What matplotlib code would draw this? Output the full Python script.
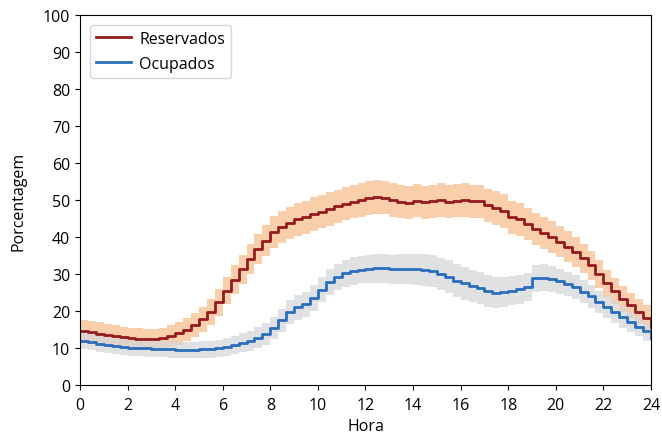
import matplotlib.pyplot as plt
import numpy as np

plt.rcParams['font.family'] = ['Open Sans', 'DejaVu Sans']

# Data (20-minute resolution, 0h to 24h)
hora = np.arange(73) / 3.0
reservados = np.array([
    14.5, 14.2, 13.9, 13.5, 13.2, 12.9, 12.6, 12.4, 12.3, 12.3,
    12.6, 13.2, 14.0, 15.0, 16.2, 17.8, 19.8, 22.3, 25.5, 28.5,
    31.3, 34.0, 36.8, 39.0, 41.3, 42.7, 43.8, 44.8, 45.3, 46.2,
    46.8, 47.6, 48.3, 49.0, 49.5, 50.0, 50.5, 50.8, 50.6, 50.0,
    49.5, 49.3, 49.8, 49.4, 49.6, 50.0, 49.5, 49.8, 50.0, 49.6,
    49.6, 48.6, 47.8, 47.0, 45.3, 44.8, 43.5, 42.2, 41.0, 40.0,
    38.7, 37.4, 36.0, 34.3, 32.3, 30.0, 27.5, 25.3, 23.3, 21.5,
    19.8, 18.2, 15.8])
ocupados = np.array([
    12.0, 11.6, 11.2, 10.8, 10.5, 10.3, 10.1, 10.0, 9.9, 9.8,
    9.7, 9.6, 9.5, 9.5, 9.5, 9.6, 9.7, 9.9, 10.2, 10.8,
    11.4, 12.0, 12.8, 13.8, 15.5, 17.5, 19.8, 21.0, 21.8, 23.5,
    25.8, 27.8, 29.2, 30.2, 30.8, 31.2, 31.4, 31.5, 31.5, 31.3,
    31.3, 31.4, 31.3, 31.0, 30.8, 30.0, 29.3, 28.2, 27.5, 26.8,
    26.2, 25.3, 24.9, 25.2, 25.5, 25.9, 26.5, 28.8, 29.0, 28.7,
    28.0, 27.3, 26.5, 25.2, 24.0, 22.5, 21.0, 19.7, 18.3, 17.0,
    15.8, 14.5, 12.8])
# half-width of the shaded bands
res_err = np.array([
    3.0, 3.0, 3.0, 3.0, 3.0, 2.9, 2.9, 2.9, 2.9, 2.9,
    2.9, 3.0, 3.1, 3.2, 3.3, 3.4, 3.5, 3.6, 3.7, 3.8,
    3.9, 4.0, 4.1, 4.2, 4.3, 4.4, 4.4, 4.5, 4.5, 4.5,
    4.5, 4.5, 4.5, 4.5, 4.5, 4.5, 4.5, 4.5, 4.5, 4.5,
    4.5, 4.5, 4.5, 4.5, 4.5, 4.5, 4.5, 4.5, 4.5, 4.5,
    4.5, 4.5, 4.5, 4.5, 4.5, 4.5, 4.4, 4.4, 4.3, 4.3,
    4.2, 4.1, 4.0, 3.9, 3.8, 3.7, 3.6, 3.5, 3.5, 3.4,
    3.4, 3.3, 3.3])
ocu_err = np.array([
    2.2, 2.2, 2.2, 2.2, 2.2, 2.2, 2.2, 2.2, 2.2, 2.2,
    2.2, 2.2, 2.2, 2.2, 2.2, 2.2, 2.3, 2.3, 2.4, 2.5,
    2.6, 2.7, 2.8, 2.9, 3.0, 3.1, 3.2, 3.3, 3.4, 3.5,
    3.5, 3.5, 3.6, 3.6, 3.7, 3.7, 3.7, 3.8, 3.8, 3.9,
    4.0, 4.1, 4.2, 4.3, 4.4, 4.4, 4.5, 4.5, 4.5, 4.4,
    4.4, 4.3, 4.2, 4.1, 4.0, 3.9, 3.8, 3.7, 3.6, 3.5,
    3.4, 3.3, 3.2, 3.1, 3.1, 3.0, 3.0, 2.9, 2.8, 2.7,
    2.6, 2.5, 2.5])

fig = plt.figure(figsize=(6.62, 4.39), dpi=100)
ax = fig.add_axes([0.1208, 0.1207, 0.8626, 0.8429])

ax.fill_between(hora, reservados - res_err, reservados + res_err, step='post',
                color='#f9c9a2', alpha=0.9, linewidth=0)
ax.fill_between(hora, ocupados - ocu_err, ocupados + ocu_err, step='post',
                color='#d6d7d9', alpha=0.75, linewidth=0)
ax.step(hora, reservados, where='post', color='#931b1e', lw=2, label='Reservados')
ax.step(hora, ocupados, where='post', color='#2a6ebb', lw=2, label='Ocupados')

ax.set_xlim(0, 24)
ax.set_ylim(0, 100)
ax.set_xticks(np.arange(0, 25, 2))
ax.set_yticks(np.arange(0, 101, 10))
ax.tick_params(labelsize=11.5)
ax.tick_params(axis='x', pad=5)
ax.set_xlabel('Hora', fontsize=11.5, labelpad=4)
ax.set_ylabel('Porcentagem', fontsize=11.5, labelpad=12)
ax.legend(loc='upper left', fontsize=11.5, handlelength=2.2, handletextpad=0.5,
          borderaxespad=0.6, labelspacing=0.55)

plt.savefig('out.png', dpi=100)
